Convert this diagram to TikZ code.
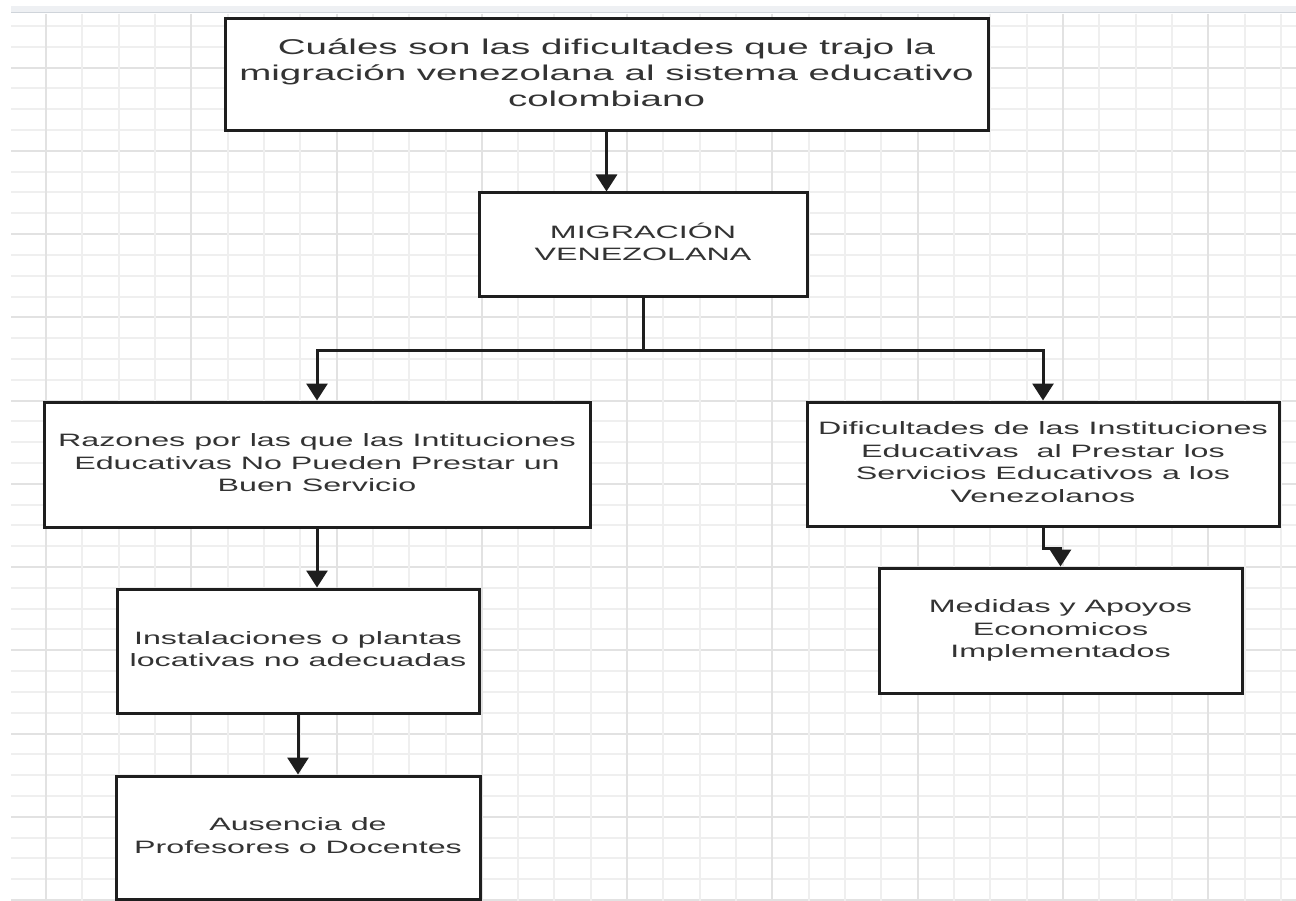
\documentclass[tikz,border=0pt]{standalone}
\usepackage{fontspec}
\setmainfont{Liberation Sans}
\usepackage{graphicx}
\usepackage{xcolor}
\usepackage{tikz}
\usetikzlibrary{arrows.meta, positioning}

\definecolor{rejilla}{HTML}{EFEFEF}
\definecolor{rejillaf}{HTML}{E2E2E2}
\definecolor{borde}{HTML}{1E1E1E}
\definecolor{texto}{HTML}{333333}
\definecolor{barra}{HTML}{EEF0F3}
\definecolor{barral}{HTML}{CFD4DA}

% texto ensanchado como en el dibujo original
\newcommand{\ancho}[1]{\scalebox{1.8}[1]{\begin{tabular}{@{}c@{}}#1\end{tabular}}}

\begin{document}
\begin{tikzpicture}[x=1pt, y=-1pt,
        caja/.style={draw=borde, line width=3pt, fill=white, inner sep=0pt, text=texto,
            font=\fontsize{17.9}{22.8}\selectfont},
        flecha/.style={draw=borde, line width=3pt, -{Triangle[length=17pt, width=21pt]}},
        fina/.style={draw=rejilla, line width=2pt},
        gruesa/.style={draw=rejillaf, line width=2pt}]
        \useasboundingbox (0,0) rectangle (1296,901);
        \fill[white] (0,0) rectangle (1296,901);

        % Barra superior
        \fill[barra] (11,6) rectangle (1296,12);
        \draw[barral, line width=1.5pt] (11,12.5) -- (1296,12.5);

        % Rejilla
        \foreach \j in {0,...,42} {
            \pgfmathtruncatemacro{\r}{mod(\j,4)}
            \ifnum\r=2
                \draw[gruesa] (11,{26+20.81*\j}) -- (1296,{26+20.81*\j});
            \else
                \draw[fina] (11,{26+20.81*\j}) -- (1296,{26+20.81*\j});
            \fi
        }
        \foreach \i in {0,...,34} {
            \pgfmathtruncatemacro{\r}{mod(\i,4)}
            \ifnum\r=0
                \draw[gruesa] ({46+36.32*\i},14) -- ({46+36.32*\i},901);
            \else
                \draw[fina] ({46+36.32*\i},14) -- ({46+36.32*\i},901);
            \fi
        }

        % Cajas
        \node[caja, minimum width=763, minimum height=112, font=\fontsize{21.4}{26}\selectfont] (pregunta) at (606.5,75)
            {\ancho{Cuáles son las dificultades que trajo la\\ migración venezolana al sistema educativo\\ colombiano}};
        \node[caja, minimum width=328, minimum height=104] (migracion) at (643,245) {\ancho{MIGRACIÓN\\ VENEZOLANA}};
        \node[caja, minimum width=546, minimum height=125] (razones) at (317,464.5)
            {\ancho{Razones por las que las Intituciones\\ Educativas No Pueden Prestar un\\ Buen Servicio}};
        \node[caja, minimum width=472, minimum height=124] (dificultades) at (1043,464)
            {\ancho{Dificultades de las Instituciones\\ Educativas\ \ al Prestar los\\ Servicios Educativos a los\\ Venezolanos}};
        \node[caja, minimum width=362, minimum height=124] (instalaciones) at (298,651)
            {\ancho{Instalaciones o plantas\\ locativas no adecuadas}};
        \node[caja, minimum width=364, minimum height=123] (ausencia) at (298,837.5)
            {\ancho{Ausencia de\\ Profesores o Docentes}};
        \node[caja, minimum width=363, minimum height=125] (medidas) at (1060.5,630.5)
            {\ancho{Medidas y Apoyos\\ Economicos\\ Implementados}};

        % Conectores
        \draw[flecha] (pregunta.south) -- (pregunta.south |- migracion.north);
        \draw[flecha] (migracion.south) -- ++(0,52) -| (razones.north);
        \draw[flecha] (migracion.south) -- ++(0,52) -| (dificultades.north);
        \draw[flecha] (razones.south) -- (razones.south |- instalaciones.north);
        \draw[flecha] (instalaciones.south) -- (ausencia.north);
        \draw[flecha] (dificultades.south) -- ++(0,21) -| (medidas.north);
    \end{tikzpicture}
\end{document}
